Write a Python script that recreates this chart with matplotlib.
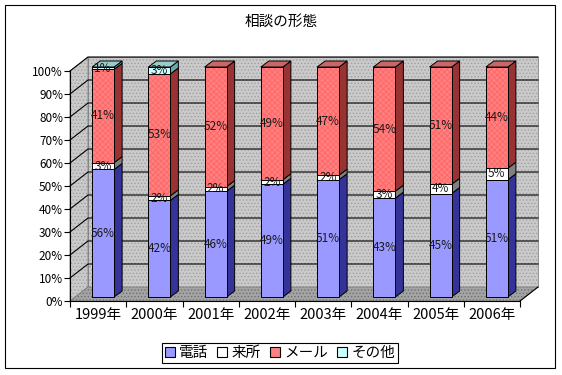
import numpy as np
import matplotlib
matplotlib.use("Agg")
import matplotlib.pyplot as plt
from matplotlib.patches import Polygon, Patch, Rectangle

plt.rcParams['font.family'] = ['Noto Sans CJK JP', 'DejaVu Sans']
plt.rcParams['hatch.linewidth'] = 0.6

# data (percent, as labelled in the chart)
years = ['1999年', '2000年', '2001年', '2002年', '2003年', '2004年', '2005年', '2006年']
series = ['電話', '来所', 'メール', 'その他']
phone = [56, 42, 46, 49, 51, 43, 45, 51]
visit = [3, 2, 2, 2, 2, 3, 4, 5]
mail = [41, 53, 52, 49, 47, 54, 51, 44]
other = [1, 3, 0, 0, 0, 0, 0, 0]

front = ['#9999ff', '#ffffff', '#ff8080', '#ccffff']
side = ['#333399', '#808080', '#993333', '#66aaaa']
top = ['#6666cc', '#c0c0c0', '#cc6666', '#99cccc']

W, H = 562, 375
fig = plt.figure(figsize=(W / 100, H / 100), dpi=100)
ax = fig.add_axes([70 / W, 74 / H, 450 / W, 230 / H])
n = len(years)
ax.set_xlim(-0.5, n - 0.5)
ax.set_ylim(0, 100)
ax.set_facecolor('none')

# pixel -> data conversion for the fake depth
sx = 450 / n
sy = 230 / 100.0
def px(dx, dy):
    return dx / sx, dy / sy

wx, wy = px(18, 14)      # wall depth
bx0, by0 = px(5, 4)      # bar front offset
bdx, bdy = px(8, 6)      # bar depth
bw = 22 / sx             # bar width

x0, x1 = -0.5, n - 0.5

def shape(pts, fc, hatch=None, hc=None, ec=None, lw=0.0, z=1):
    ax.add_patch(Polygon(pts, closed=True, facecolor=fc, edgecolor='none',
                         lw=0, clip_on=False, zorder=z))
    if hatch:
        ax.add_patch(Polygon(pts, closed=True, facecolor='none', edgecolor=hc,
                             hatch=hatch, lw=0, clip_on=False, zorder=z))
    if ec:
        ax.add_patch(Polygon(pts, closed=True, facecolor='none', edgecolor=ec,
                             lw=lw, clip_on=False, zorder=z))

# walls and floor
shape([(x0 + wx, wy), (x1 + wx, wy), (x1 + wx, 100 + wy), (x0 + wx, 100 + wy)],
      '#cacaca', '.....', '#a0a0a0', '#808080', 0.6, 0)
shape([(x0, 0), (x0, 100), (x0 + wx, 100 + wy), (x0 + wx, wy)],
      '#cacaca', '.....', '#a0a0a0', '#808080', 0.6, 0)
shape([(x0, 0), (x1, 0), (x1 + wx, wy), (x0 + wx, wy)],
      '#a4a4a4', '.....', '#707070', '#808080', 0.6, 0)
ax.plot([x1, x1 + wx], [0, wy], color='black', lw=0.8, clip_on=False, zorder=2)

# gridlines
for v in range(10, 101, 10):
    ax.plot([x0, x0 + wx, x1 + wx], [v, v + wy, v + wy], color='black', lw=0.8,
            clip_on=False, zorder=1)

# stacked bars
vals = np.array([phone, visit, mail, other], dtype=float)
pct = vals / vals.sum(axis=0) * 100
for i in range(n):
    l = i - bw / 2 + bx0
    r = i + bw / 2 + bx0
    base = by0
    last = max(k for k in range(4) if pct[k, i] > 0)
    for k in range(4):
        h = pct[k, i]
        if h <= 0:
            continue
        b, t = base, base + h
        shape([(r, b), (r + bdx, b + bdy), (r + bdx, t + bdy), (r, t)],
              side[k], ec='black', lw=0.7, z=3)
        if k == 2:
            shape([(l, b), (r, b), (r, t), (l, t)], front[k], 'xxxxxx', '#ff6666',
                  'black', 0.7, 3)
        else:
            shape([(l, b), (r, b), (r, t), (l, t)], front[k], ec='black', lw=0.7, z=3)
        if k == last:
            shape([(l, t), (r, t), (r + bdx, t + bdy), (l + bdx, t + bdy)],
                  top[k], ec='black', lw=0.7, z=3)
        ax.text((l + r) / 2, (b + t) / 2, '%d%%' % vals[k, i], ha='center',
                va='center', fontsize=8.5, color='#1a1a1a', zorder=4, clip_on=False)
        base = t

# axes
for s in ['top', 'right']:
    ax.spines[s].set_visible(False)
ax.spines['left'].set_linewidth(0.8)
ax.spines['bottom'].set_linewidth(0.8)
ax.spines['left'].set_zorder(2)
ax.spines['bottom'].set_zorder(2)
ax.set_yticks(range(0, 101, 10))
ax.set_yticklabels(['%d%%' % v for v in range(0, 101, 10)], fontsize=8.5)
ax.tick_params(axis='y', length=4, width=0.8, pad=1)
ax.set_xticks(range(n))
ax.set_xticklabels(years, fontsize=10.5)
ax.set_xticks(np.arange(-0.5, n, 1), minor=True)
ax.tick_params(axis='x', which='major', length=0, pad=5)
ax.tick_params(axis='x', which='minor', length=4, width=0.8)

fig.text(0.5, 1 - 22 / H, '相談の形態', ha='center', va='center', fontsize=10.5)

handles = [Patch(facecolor=front[k], edgecolor='black', lw=0.8) for k in range(4)]
leg = fig.legend(handles, series, loc='center', bbox_to_anchor=(280 / W, 1 - 353 / H),
                 ncol=4, fontsize=10.5, fancybox=False, edgecolor='black', framealpha=1,
                 borderpad=0.2, handlelength=0.7, handleheight=0.7,
                 handletextpad=0.3, columnspacing=0.6, borderaxespad=0)
leg.get_frame().set_linewidth(0.8)

fig.add_artist(Rectangle((5 / W, 7 / H), 550 / W, 363 / H, transform=fig.transFigure,
                         facecolor='none', edgecolor='black', lw=0.8))

fig.savefig('out.png', dpi=100)
